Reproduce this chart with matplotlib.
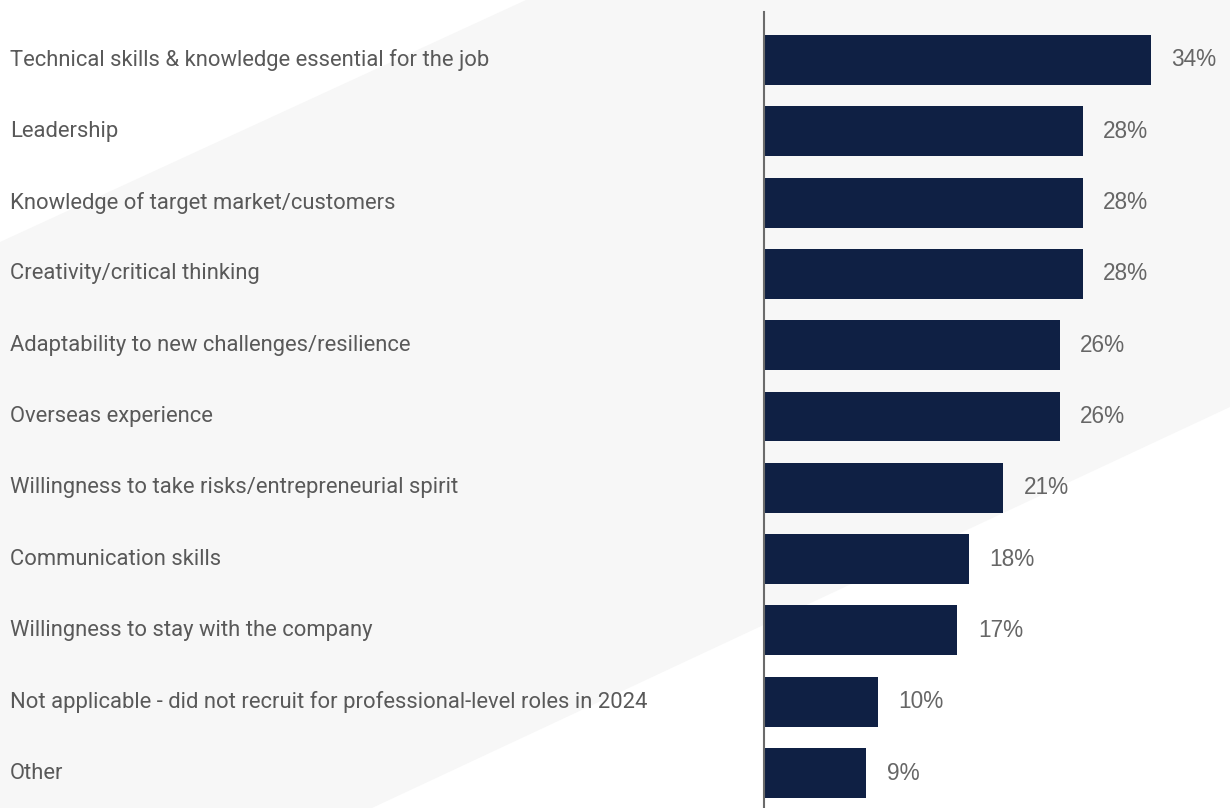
import matplotlib.pyplot as plt
import matplotlib.transforms as mtransforms
from matplotlib.patches import Polygon

plt.rcParams['font.family'] = ['Roboto', 'DejaVu Sans']

# Data
categories = [
    'Technical skills & knowledge essential for the job',
    'Leadership',
    'Knowledge of target market/customers',
    'Creativity/critical thinking',
    'Adaptability to new challenges/resilience',
    'Overseas experience',
    'Willingness to take risks/entrepreneurial spirit',
    'Communication skills',
    'Willingness to stay with the company',
    'Not applicable - did not recruit for professional-level roles in 2024',
    'Other',
]
values = [34, 28, 28, 28, 26, 26, 21, 18, 17, 10, 9]

W, H = 1230, 808
barColor = '#0f2044'
textColor = '#595959'

fig = plt.figure(figsize=(W / 100, H / 100), dpi=100)
fig.patch.set_facecolor('white')

# Diagonal grey band behind everything (pixel coords, origin top-left)
band = [(526, 0), (W, 0), (W, 407), (372, H), (0, H), (0, 242)]
band = [(x / W, 1 - y / H) for x, y in band]
fig.patches.append(Polygon(band, closed=True, transform=fig.transFigure,
                           facecolor='#f7f7f7', edgecolor='none', zorder=-5))

ax = fig.add_axes([764 / W, 0, 1 - 764 / W, (H - 12) / H], zorder=1)
ax.patch.set_visible(False)

ypos = list(range(len(categories)))
ax.barh(ypos, values, height=0.7, color=barColor, zorder=2)

for y, v in zip(ypos, values):
    ax.text(v + 1.8, y, f'{v}%', va='center', ha='left',
            fontsize=16.3, color='#666666', family='Liberation Sans')

# Category labels sit at the far left of the figure
labelTrans = mtransforms.blended_transform_factory(fig.transFigure, ax.transData)
for y, label in zip(ypos, categories):
    ax.text(10 / W, y, label, transform=labelTrans, clip_on=False,
            va='center', ha='left', fontsize=15.8, color=textColor)

ax.set_xlim(0, 40.95)
ax.set_ylim(10.49, -0.673)

for side in ['top', 'right', 'bottom']:
    ax.spines[side].set_visible(False)
ax.spines['left'].set_color('#6b6b6b')
ax.spines['left'].set_linewidth(1.5)
ax.set_xticks([])
ax.set_yticks([])

fig.savefig('out.png', dpi=100)
